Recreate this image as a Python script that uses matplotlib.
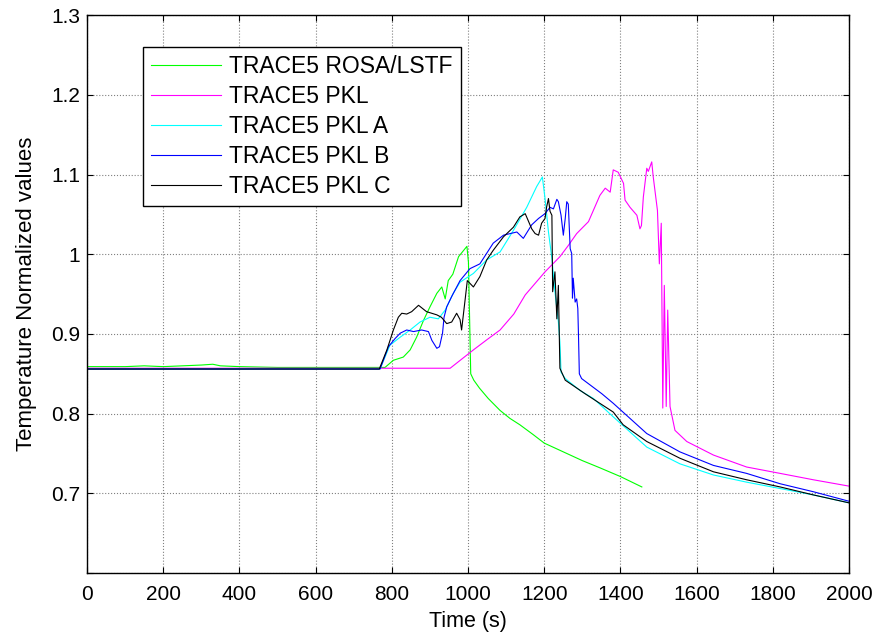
import matplotlib
matplotlib.use('Agg')
import matplotlib.pyplot as plt

plt.rcParams['font.family'] = ['Liberation Sans', 'DejaVu Sans']

# TRACE5 ROSA/LSTF
t_rosa = [0, 100, 150, 200, 250, 300, 330, 350, 400, 500, 600, 700, 782, 804, 830, 848,
          865, 883, 900, 918, 931, 940, 948, 960, 975, 997, 1001, 1007, 1015, 1030, 1053,
          1084, 1110, 1136, 1170, 1200, 1250, 1300, 1346, 1400, 1456]
y_rosa = [0.859, 0.859, 0.860, 0.859, 0.860, 0.861, 0.862, 0.860, 0.859, 0.858, 0.858, 0.858,
          0.858, 0.867, 0.871, 0.880, 0.896, 0.917, 0.934, 0.951, 0.959, 0.944, 0.967, 0.975,
          0.997, 1.010, 0.990, 0.850, 0.842, 0.832, 0.819, 0.804, 0.794, 0.786, 0.774, 0.763,
          0.752, 0.741, 0.732, 0.721, 0.708]

# TRACE5 PKL
t_pkl = [0, 953, 1014, 1050, 1084, 1120, 1150, 1202, 1241, 1263, 1285, 1316, 1346, 1360, 1373,
         1381, 1394, 1408, 1412, 1425, 1443, 1451, 1455, 1460, 1469, 1473, 1482, 1486, 1497,
         1502, 1507, 1511, 1515, 1520, 1524, 1530, 1543, 1574, 1644, 1731, 1819, 1906, 2000]
y_pkl = [0.857, 0.857, 0.880, 0.893, 0.905, 0.925, 0.949, 0.978, 0.997, 1.011, 1.026, 1.041,
         1.074, 1.083, 1.078, 1.106, 1.103, 1.089, 1.068, 1.059, 1.049, 1.032, 1.036, 1.072,
         1.108, 1.104, 1.116, 1.097, 1.055, 0.988, 1.039, 0.807, 0.961, 0.809, 0.930, 0.809,
         0.779, 0.765, 0.748, 0.733, 0.725, 0.717, 0.709]

# TRACE5 PKL A
t_a = [0, 769, 795, 822, 848, 874, 900, 922, 940, 961, 979, 1014, 1049, 1084, 1119, 1154,
       1180, 1195, 1202, 1211, 1220, 1228, 1237, 1241, 1244, 1255, 1294, 1329, 1381, 1469,
       1556, 1644, 1731, 1819, 1906, 2000]
y_a = [0.856, 0.856, 0.886, 0.896, 0.905, 0.915, 0.921, 0.919, 0.930, 0.951, 0.965, 0.976,
       0.993, 1.003, 1.030, 1.059, 1.085, 1.097, 1.070, 1.028, 0.995, 0.953, 0.915, 0.890,
       0.852, 0.844, 0.829, 0.819, 0.796, 0.758, 0.737, 0.723, 0.714, 0.706, 0.698, 0.688]

# TRACE5 PKL B
t_b = [0, 769, 791, 808, 822, 839, 857, 878, 896, 905, 918, 925, 933, 937, 944, 957, 979,
       1005, 1031, 1066, 1093, 1128, 1145, 1167, 1185, 1202, 1215, 1224, 1233, 1237, 1244,
       1250, 1255, 1259, 1263, 1268, 1272, 1274, 1276, 1281, 1285, 1288, 1290, 1292, 1298,
       1351, 1381, 1469, 1556, 1644, 1731, 1819, 1906, 2000]
y_b = [0.856, 0.856, 0.884, 0.894, 0.901, 0.905, 0.903, 0.905, 0.903, 0.892, 0.882, 0.884,
       0.901, 0.921, 0.934, 0.947, 0.967, 0.982, 0.988, 1.014, 1.024, 1.028, 1.020, 1.037,
       1.045, 1.051, 1.059, 1.057, 1.069, 1.066, 1.049, 1.024, 1.045, 1.066, 1.063, 1.007,
       1.001, 0.945, 0.970, 0.940, 0.944, 0.932, 0.894, 0.850, 0.844, 0.825, 0.813, 0.775,
       0.752, 0.735, 0.725, 0.712, 0.702, 0.690]

# TRACE5 PKL C
t_c = [0, 767, 787, 804, 817, 826, 839, 852, 870, 891, 918, 930, 944, 957, 970, 979, 983,
       992, 998, 1014, 1031, 1049, 1066, 1093, 1119, 1136, 1150, 1167, 1176, 1185, 1193,
       1202, 1206, 1211, 1215, 1220, 1222, 1228, 1233, 1237, 1241, 1255, 1307, 1381, 1407,
       1469, 1556, 1644, 1731, 1819, 1906, 2000]
y_c = [0.856, 0.856, 0.880, 0.905, 0.921, 0.926, 0.925, 0.928, 0.936, 0.928, 0.924, 0.921,
       0.913, 0.915, 0.926, 0.918, 0.905, 0.942, 0.967, 0.959, 0.972, 0.993, 1.005, 1.022,
       1.034, 1.047, 1.051, 1.032, 1.026, 1.024, 1.039, 1.045, 1.059, 1.070, 1.054, 1.049,
       0.953, 0.978, 0.919, 0.961, 0.857, 0.842, 0.825, 0.802, 0.786, 0.765, 0.744, 0.727,
       0.717, 0.708, 0.698, 0.688]

fig = plt.figure(figsize=(8.79, 6.37), dpi=100)
ax = fig.add_axes([0.099, 0.1005, 0.867, 0.8755])

lw = 0.8
ax.plot(t_rosa, y_rosa, color='#00ff00', lw=lw, label='TRACE5 ROSA/LSTF')
ax.plot(t_pkl, y_pkl, color='#ff00ff', lw=lw, label='TRACE5 PKL')
ax.plot(t_a, y_a, color='#00ffff', lw=lw, label='TRACE5 PKL A')
ax.plot(t_b, y_b, color='#0000ff', lw=lw, label='TRACE5 PKL B')
ax.plot(t_c, y_c, color='black', lw=lw, label='TRACE5 PKL C')

ax.set_xlim(0, 2000)
ax.set_ylim(0.6, 1.3)
ax.set_xticks(range(0, 2001, 200))
yt = [0.6, 0.7, 0.8, 0.9, 1.0, 1.1, 1.2, 1.3]
ax.set_yticks(yt)
ax.set_yticklabels(['', '0.7', '0.8', '0.9', '1', '1.1', '1.2', '1.3'])
ax.tick_params(direction='in', top=True, right=True, labelsize=15, length=4, width=0.8)
ax.tick_params(axis='x', pad=8.5)
ax.tick_params(axis='y', pad=5)
ax.grid(True, color='#808080', linestyle=':', linewidth=0.8)
for s in ax.spines.values():
    s.set_linewidth(1.0)

ax.set_xlabel('Time (s)', fontsize=15.5, labelpad=5)
ax.set_ylabel('Temperature Normalized values', fontsize=16, labelpad=10)

leg = ax.legend(loc='upper left', bbox_to_anchor=(0.0735, 0.9427), borderaxespad=0,
                fontsize=16.5, fancybox=False, framealpha=1, edgecolor='black',
                handlelength=3.05, handletextpad=0.35, labelspacing=0.3, borderpad=0.36)
leg.get_frame().set_linewidth(1.0)

fig.savefig('out.png', dpi=100)
